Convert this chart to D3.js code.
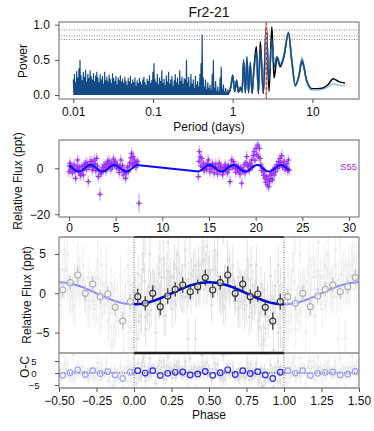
<!DOCTYPE html>
<html><head><meta charset="utf-8">
<script src="https://cdn.jsdelivr.net/npm/d3@7"></script>
<style>body{margin:0;background:#fff}svg{display:block;font-family:"Liberation Sans",Arial,Helvetica,sans-serif}</style>
</head><body><svg id="c" width="374" height="431"></svg>
<script>
/* Fr2-21 — periodogram, light curve, phase fold + O-C */
var title = 'Fr2-21';

// periodogram: dense short-period spikes (peak powers on a log grid 0.01..0.9 d)
var pgDenseRange = [0.01, 0.9];
var pgDense = [0.22,0.30,0.18,0.34,0.25,0.38,0.50,0.28,0.21,0.33,0.26,0.36,0.19,0.30,0.24,0.35,0.27,0.22,0.31,0.20,0.28,0.33,
  0.25,0.18,0.30,0.22,0.27,0.16,0.33,0.21,0.26,0.19,0.29,0.23,0.17,0.31,0.24,0.20,0.27,0.15,0.25,0.21,0.28,0.19,
  0.23,0.17,0.26,0.20,0.14,0.24,0.19,0.27,0.16,0.22,0.18,0.25,0.13,0.21,0.17,0.24,0.19,0.15,0.22,0.26,0.18,0.14,0.23,0.20,0.28,0.17,0.21,0.33,
  0.45,0.22,0.18,0.30,0.15,0.25,0.20,0.35,0.17,0.23,0.14,0.28,0.19,0.33,0.16,0.22,0.27,0.13,0.21,0.30,0.18,0.25,0.15,0.35,0.20,0.26,0.16,0.24,
  0.22,0.50,0.18,0.26,0.12,0.30,0.16,0.22,0.10,0.27,0.15,0.20,0.12,0.30,0.45,0.86,0.25,0.12,0.22,0.08,0.18,0.10,0.15,0.07,0.30,0.50,
  0.10,0.20,0.06,0.12,0.05,0.25,0.40,0.08,0.15,0.05,0.10,0.04,0.08,0.05];
// periodogram: long periods, three versions
var pgLongPeriod = [0.90,0.95,1.00,1.06,1.12,1.18,1.25,1.31,1.37,1.44,1.51,1.58,1.66,1.75,1.84,1.98,2.10,2.22,2.42,2.64,2.85,3.10,3.30,3.60,3.95,4.40,5.00,5.50,6.10,6.70,7.40,8.50,9.80,11.5,13.6,15.8,18.2,21.5,25.6];
var pgBlack = [0.03,0.12,0.28,0.05,0.20,0.04,0.10,0.04,0.48,0.03,0.50,0.03,0.40,0.02,0.35,0.69,0.02,0.76,0.02,1.00,0.05,0.97,0.24,0.53,0.40,0.55,0.88,0.50,0.14,0.25,0.47,0.20,0.09,0.09,0.10,0.15,0.23,0.19,0.17];
var pgLight = [0.04,0.14,0.26,0.07,0.22,0.05,0.12,0.05,0.45,0.05,0.55,0.05,0.42,0.05,0.32,0.55,0.04,0.62,0.05,0.88,0.30,0.70,0.50,0.55,0.45,0.58,0.90,0.50,0.12,0.25,0.54,0.18,0.07,0.07,0.08,0.12,0.16,0.14,0.13];
var pgDark = [0.03,0.13,0.27,0.06,0.21,0.04,0.11,0.04,0.50,0.04,0.54,0.04,0.47,0.03,0.33,0.62,0.03,0.68,0.03,0.96,0.20,0.80,0.40,0.54,0.42,0.56,0.89,0.50,0.13,0.25,0.50,0.19,0.08];
var fapLevels = [0.925, 0.84, 0.79];
var bestPeriod = 2.64;
var pgTicks = [0.01, 0.1, 1, 10];

// light curve [time d, flux ppt, err]
var lcData = [[0.00,-1.5,2.4],[0.05,1.0,2.2],[0.11,2.2,2.5],[0.20,-0.5,2.0],[0.28,0.8,2.3],[0.36,-2.0,2.6],[0.46,0.0,2.1],[0.55,1.5,2.4],
  [0.62,-1.2,2.2],[0.71,-4.4,2.6],[0.80,-0.3,2.0],[0.88,1.0,2.3],[0.93,3.6,2.5],[1.00,-0.8,2.2],[1.07,-1.5,2.4],[1.15,0.5,2.0],
  [1.22,-3.0,2.5],[1.29,-2.6,2.3],[1.38,0.8,2.1],[1.46,-1.0,2.4],[1.54,-2.9,2.5],[1.62,1.5,2.2],[1.71,0.7,2.0],[1.80,2.5,2.4],
  [1.88,-0.5,2.1],[1.96,1.8,2.3],[2.07,-5.8,2.6],[2.15,0.5,2.2],[2.25,2.9,2.5],[2.33,1.2,2.0],[2.42,3.0,2.4],[2.50,-0.7,2.2],
  [2.58,1.5,2.3],[2.65,0.3,2.1],[2.71,3.6,2.5],[2.80,2.0,2.2],[2.88,-1.0,2.4],[2.96,4.3,2.6],[3.05,1.0,2.1],[3.14,-3.6,2.5],
  [3.22,-1.0,2.2],[3.32,-11.3,2.8],[3.40,-2.5,2.3],[3.50,-1.5,2.4],[3.58,0.2,2.0],[3.66,-0.8,2.2],[3.76,1.5,2.4],[3.86,0.7,2.1],
  [3.95,-1.2,2.3],[4.05,2.0,2.2],[4.14,2.9,2.5],[4.22,0.5,2.0],[4.30,3.2,2.4],[4.39,1.5,2.2],[4.48,-0.5,2.3],[4.56,2.2,2.1],
  [4.65,0.8,2.4],[4.75,4.0,2.5],[4.84,1.8,2.2],[4.92,3.0,2.3],[5.00,2.2,2.1],[5.08,0.2,2.4],[5.18,1.5,2.2],[5.29,0.0,2.0],
  [5.38,-1.8,2.5],[5.47,1.0,2.2],[5.57,3.6,2.4],[5.65,-0.5,2.1],[5.74,1.2,2.3],[5.82,-2.9,2.5],[5.90,-0.8,2.2],[5.98,-1.5,2.0],
  [6.07,-4.4,2.6],[6.15,-2.0,2.3],[6.25,0.5,2.1],[6.36,-1.5,2.4],[6.45,1.0,2.2],[6.55,2.5,2.5],[6.63,4.5,2.3],[6.71,6.5,2.6],
  [6.80,2.0,2.2],[6.88,5.0,2.4],[6.95,1.5,2.1],[7.00,3.6,2.5],[7.10,2.5,2.2],[7.18,0.5,2.3],[7.25,2.2,2.4],[7.35,3.0,2.2],
  [7.50,-15.2,4.2],
  [13.86,-3.6,2.5],[13.92,3.0,2.2],[13.97,7.2,2.6],[14.05,5.0,2.3],[14.12,1.0,2.1],[14.22,4.3,2.5],[14.30,0.5,2.2],[14.40,2.2,2.4],
  [14.48,-1.0,2.1],[14.58,0.0,2.3],[14.66,1.5,2.2],[14.75,-0.5,2.0],[14.85,2.0,2.4],[14.93,3.6,2.5],[15.02,0.8,2.2],[15.10,-1.5,2.3],
  [15.20,1.0,2.1],[15.28,-0.3,2.4],[15.38,2.0,2.2],[15.47,0.7,2.0],[15.55,-2.0,2.5],[15.65,0.5,2.2],[15.73,1.8,2.3],[15.83,-0.7,2.1],
  [15.92,-2.5,2.4],[16.00,0.5,2.2],[16.10,2.2,2.5],[16.18,-1.0,2.1],[16.27,1.0,2.3],[16.36,0.0,2.2],[16.45,-2.8,2.4],[16.54,-1.5,2.0],
  [16.62,0.3,2.2],[16.72,1.5,2.4],[16.80,-0.8,2.1],[16.90,0.7,2.3],[16.98,-2.0,2.5],[17.07,1.2,2.2],[17.15,-0.5,2.0],[17.25,-5.8,2.6],
  [17.34,1.0,2.2],[17.43,3.6,2.4],[17.52,0.5,2.1],[17.61,2.9,2.5],[17.70,1.5,2.2],[17.79,0.0,2.3],[17.88,-1.8,2.4],[17.97,1.0,2.1],
  [18.06,-0.5,2.2],[18.15,0.7,2.0],[18.24,-1.5,2.4],[18.33,-2.5,2.3],[18.42,0.3,2.1],[18.50,-6.5,2.6],[18.60,-1.0,2.2],[18.68,-0.7,2.4],
  [18.78,1.5,2.1],[18.86,-2.0,2.3],[18.95,2.5,2.2],[19.04,5.1,2.5],[19.13,1.0,2.1],[19.22,0.7,2.3],[19.30,-1.0,2.2],[19.40,2.0,2.4],
  [19.48,1.0,2.0],[19.57,3.6,2.5],[19.66,0.5,2.2],[19.75,5.5,2.4],[19.83,7.2,2.6],[19.92,3.5,2.2],[20.04,8.7,2.5],[20.12,6.0,2.3],
  [20.22,10.1,2.6],[20.30,5.0,2.2],[20.40,8.7,2.5],[20.47,4.3,2.3],[20.56,1.5,2.1],[20.65,-1.0,2.4],[20.75,0.0,2.2],[20.84,-3.0,2.3],
  [20.92,-1.5,2.1],[21.00,-4.4,2.5],[21.08,-6.0,2.4],[21.16,-3.5,2.2],[21.25,-7.2,2.6],[21.33,-5.0,2.3],[21.40,-8.0,2.5],[21.47,-5.8,2.4],
  [21.55,-3.0,2.2],[21.63,-4.5,2.3],[21.72,-2.2,2.1],[21.80,-5.0,2.4],[21.88,-0.5,2.2],[21.97,-2.9,2.5],[22.05,0.0,2.1],[22.14,-1.5,2.3],
  [22.26,1.5,2.2],[22.35,0.0,2.0],[22.44,2.9,2.4],[22.53,1.0,2.2],[22.62,4.3,2.5],[22.70,2.5,2.3],[22.80,5.5,2.6],[22.88,0.5,2.1],
  [22.97,1.5,2.2],[23.06,3.0,2.4],[23.15,-0.5,2.1],[23.26,0.7,2.3],[23.35,2.0,2.2],[23.44,-1.0,2.4],[23.51,3.6,2.5],[23.60,-0.7,2.2]];
var lcLabel = 'S55';
var lcTicks = [0, 5, 10, 15, 20, 25, 30];
var lcYTicks = [0, -20];

// sinusoid fit
var modelPeriod = 2.55, modelEpoch = 1.03, modelAmp = 1.4;

// phase bins
var binPhase = [0.025,0.075,0.125,0.175,0.225,0.275,0.325,0.375,0.425,0.475,0.525,0.575,0.625,0.675,0.725,0.775,0.825,0.875,0.925,0.975];
var binFlux = [-0.43,-1.28,0.0,-1.7,-0.34,0.5,1.06,0.2,0.85,2.0,0.42,1.35,2.33,0.0,1.18,-0.43,-0.09,-1.78,-3.53,-1.07];
var binErr = [1.0,0.9,1.0,1.1,1.0,0.9,1.0,1.0,0.9,1.0,1.0,0.9,1.1,1.0,1.0,0.9,1.0,1.0,1.1,1.0];
var phaseTicks = [-0.5, -0.25, 0, 0.25, 0.5, 0.75, 1, 1.25, 1.5];
var fluxTicks = [-5, 0, 5];

var svg = d3.select('#c');
var FONT = '"Liberation Sans",Arial,Helvetica,sans-serif';
var X0 = 59, X1 = 359;

function model(t) { return -modelAmp * Math.cos(2 * Math.PI * (t - modelEpoch) / modelPeriod); }
function modelPh(p) { return -modelAmp * Math.cos(2 * Math.PI * p); }

function frame(y0, y1) {
  svg.append('rect').attr('x', X0).attr('y', y0).attr('width', X1 - X0).attr('height', y1 - y0)
    .attr('fill', 'none').attr('stroke', '#8a8a8a').attr('stroke-width', 1.3);
}
function styleAxis(g, cx, fs) {
  g.select('.domain').remove();
  g.selectAll('.tick line').attr('stroke', '#555');
  g.selectAll('.tick text').attr('font-size', fs || 12).attr('fill', '#111').attr('font-family', FONT);
  if (cx !== undefined) g.selectAll('.tick text').attr('text-anchor', 'middle').attr('x', cx - X0);
}
function ylabel(txt, x, y) {
  svg.append('text').attr('transform', 'translate(' + x + ',' + y + ') rotate(-90)').attr('text-anchor', 'middle')
    .attr('font-size', 12).attr('fill', '#111').text(txt);
}
function clip(id, y0, y1) {
  svg.append('clipPath').attr('id', id).append('rect').attr('x', X0).attr('y', y0).attr('width', X1 - X0).attr('height', y1 - y0);
}

// ---------- title ----------
svg.append('text').attr('x', 209).attr('y', 17).attr('text-anchor', 'middle').attr('font-size', 14).attr('fill', '#111').text(title);

// ---------- periodogram ----------
var xP = d3.scaleLog().domain([0.00662, 38.4]).range([X0, X1]);
var yP = d3.scaleLinear().domain([-0.057, 1.038]).range([99, 22]);
clip('cp1', 22, 99);
var gP = svg.append('g').attr('clip-path', 'url(#cp1)');
fapLevels.forEach(function (f) {
  gP.append('line').attr('x1', X0).attr('x2', X1).attr('y1', yP(f)).attr('y2', yP(f))
    .attr('stroke', '#777').attr('stroke-width', 0.9).attr('stroke-dasharray', '1,1.5');
});
var nD = pgDense.length, lg0 = Math.log10(pgDenseRange[0]), lg1 = Math.log10(pgDenseRange[1]), dl = (lg1 - lg0) / (nD - 1);
var densePts = [];
pgDense.forEach(function (v, i) {
  var lp = lg0 + dl * i;
  densePts.push([Math.pow(10, lp), v]);
  if (i < nD - 1) densePts.push([Math.pow(10, lp + dl / 2), 0]);
});
var lineP = d3.line().x(function (d) { return xP(d[0]); }).y(function (d) { return yP(d[1]); });
var lineLong = d3.line().curve(d3.curveMonotoneX).x(function (d) { return xP(d[0]); }).y(function (d) { return yP(d[1]); });
function longPts(arr) { return arr.map(function (v, i) { return [pgLongPeriod[i], v]; }); }
gP.append('path').attr('d', lineLong(longPts(pgBlack))).attr('fill', 'none').attr('stroke', '#000').attr('stroke-width', 1.5);
gP.append('path').attr('d', lineLong(longPts(pgLight))).attr('fill', 'none').attr('stroke', '#94c6f2').attr('stroke-width', 1.5);
gP.append('path').attr('d', lineP(densePts)).attr('fill', 'none').attr('stroke', '#144b86').attr('stroke-width', 1.1);
gP.append('path').attr('d', lineLong(longPts(pgDark))).attr('fill', 'none').attr('stroke', '#144b86').attr('stroke-width', 1.5);
gP.append('line').attr('x1', xP(bestPeriod)).attr('x2', xP(bestPeriod)).attr('y1', 22).attr('y2', 99)
  .attr('stroke', '#f2a09a').attr('stroke-width', 1.6);
gP.append('line').attr('x1', xP(bestPeriod)).attr('x2', xP(bestPeriod)).attr('y1', 22).attr('y2', 99)
  .attr('stroke', '#d9241c').attr('stroke-width', 1).attr('stroke-dasharray', '3,2');
frame(22, 99);
svg.append('g').attr('transform', 'translate(0,99)')
  .call(d3.axisBottom(xP).tickValues(pgTicks).tickFormat(function (d) { return String(d); }).tickSize(4).tickPadding(4.5))
  .call(function (g) { styleAxis(g); });
svg.append('g').attr('transform', 'translate(' + X0 + ',0)')
  .call(d3.axisLeft(yP).tickValues([0, 0.5, 1]).tickFormat(d3.format('.1f')).tickSize(4))
  .call(function (g) { styleAxis(g, 41.5); });
ylabel('Power', 27, 61);
svg.append('text').attr('x', 209).attr('y', 131).attr('text-anchor', 'middle').attr('font-size', 12).attr('fill', '#111').text('Period (days)');

// ---------- light curve ----------
var xT = d3.scaleLinear().domain([-1.07, 31.07]).range([X0, X1]);
var yT = d3.scaleLinear().domain([-21.2, 12.3]).range([217, 140]);
clip('cp2', 140, 217);
var gT = svg.append('g').attr('clip-path', 'url(#cp2)');
gT.selectAll('line.eb').data(lcData).enter().append('line').attr('class', 'eb')
  .attr('x1', function (d) { return xT(d[0]); }).attr('x2', function (d) { return xT(d[0]); })
  .attr('y1', function (d) { return yT(d[1] - d[2]); }).attr('y2', function (d) { return yT(d[1] + d[2]); })
  .attr('stroke', '#cfaeff').attr('stroke-width', 1.8).attr('opacity', 0.7);
var gc = gT.selectAll('g.pt').data(lcData).enter().append('g').attr('class', 'pt')
  .attr('transform', function (d) { return 'translate(' + xT(d[0]) + ',' + yT(d[1]) + ')'; });
gc.append('line').attr('x1', -2.6).attr('x2', 2.6).attr('stroke', '#9a2cf5').attr('stroke-width', 1.2);
gc.append('line').attr('y1', -2.6).attr('y2', 2.6).attr('stroke', '#9a2cf5').attr('stroke-width', 1.2);
var lcSorted = lcData.slice().sort(function (a, b) { return a[0] - b[0]; });
gT.append('path').attr('d', d3.line().x(function (d) { return xT(d[0]); }).y(function (d) { return yT(model(d[0])); })(lcSorted))
  .attr('fill', 'none').attr('stroke', '#0a0aff').attr('stroke-width', 2);
svg.append('text').attr('x', 357).attr('y', 169.5).attr('text-anchor', 'end').attr('font-size', 9.5).attr('fill', '#a030f0').text(lcLabel);
frame(140, 217);
svg.append('g').attr('transform', 'translate(0,217)')
  .call(d3.axisBottom(xT).tickValues(lcTicks).tickSize(4).tickPadding(2.5)).call(function (g) { styleAxis(g); });
svg.append('g').attr('transform', 'translate(' + X0 + ',0)')
  .call(d3.axisLeft(yT).tickValues(lcYTicks).tickSize(4))
  .call(function (g) { styleAxis(g, 40); });
ylabel('Relative Flux (ppt)', 22, 181);

// ---------- phase fold ----------
var xF = d3.scaleLinear().domain([-0.5, 1.5]).range([X0, X1]);
var yF = d3.scaleLinear().domain([-7.6, 7.17]).range([353, 237]);
var yR = d3.scaleLinear().domain([-6.25, 8.33]).range([388, 353]);
clip('cp3', 237, 353);
clip('cp4', 353, 388);
var folded = [];
lcData.forEach(function (d) {
  var ph = ((d[0] - modelEpoch) / modelPeriod) % 1; if (ph < 0) ph += 1;
  [-1, 0, 1].forEach(function (k) {
    var p = ph + k;
    if (p >= -0.5 && p <= 1.5) folded.push({ p: p, v: d[1], e: d[2], r: d[1] - model(d[0]), inside: k === 0 });
  });
});
var g3 = svg.append('g').attr('clip-path', 'url(#cp3)');
var g4 = svg.append('g').attr('clip-path', 'url(#cp4)');
function bg(g, ys, key) {
  g.selectAll('line.bg').data(folded).enter().append('line').attr('class', 'bg')
    .attr('x1', function (d) { return xF(d.p); }).attr('x2', function (d) { return xF(d.p); })
    .attr('y1', function (d) { return ys(d[key] - d.e); }).attr('y2', function (d) { return ys(d[key] + d.e); })
    .attr('stroke', function (d) { return d.inside ? '#e2e2e2' : '#efefef'; }).attr('stroke-width', 1);
  g.selectAll('circle.bg').data(folded).enter().append('circle').attr('class', 'bg')
    .attr('cx', function (d) { return xF(d.p); }).attr('cy', function (d) { return ys(d[key]); }).attr('r', 1.5)
    .attr('fill', function (d) { return d.inside ? '#dedede' : '#ececec'; });
}
bg(g3, yF, 'v');
bg(g4, yR, 'r');

var lineF = d3.line().x(function (d) { return xF(d); }).y(function (d) { return yF(modelPh(d)); });
var phIn = d3.range(0, 1.0001, 0.01), phL = d3.range(-0.5, 0.0001, 0.01), phR = d3.range(1, 1.5001, 0.01);
g3.append('path').attr('d', lineF(phL)).attr('fill', 'none').attr('stroke', '#8c8cff').attr('stroke-width', 2);
g3.append('path').attr('d', lineF(phR)).attr('fill', 'none').attr('stroke', '#8c8cff').attr('stroke-width', 2);
g3.append('path').attr('d', lineF(phIn)).attr('fill', 'none').attr('stroke', '#0000e6').attr('stroke-width', 2.5);

var bins = [];
binPhase.forEach(function (p, i) {
  [-1, 0, 1].forEach(function (k) {
    var q = p + k;
    if (q >= -0.5 && q <= 1.5) bins.push({ p: q, v: binFlux[i], e: binErr[i], r: binFlux[i] - modelPh(p), inside: k === 0 });
  });
});
g3.selectAll('line.bn').data(bins).enter().append('line').attr('class', 'bn')
  .attr('x1', function (d) { return xF(d.p); }).attr('x2', function (d) { return xF(d.p); })
  .attr('y1', function (d) { return yF(d.v - d.e); }).attr('y2', function (d) { return yF(d.v + d.e); })
  .attr('stroke', function (d) { return d.inside ? '#333' : '#c4c4c4'; }).attr('stroke-width', 1.2);
g3.selectAll('circle.bn').data(bins).enter().append('circle').attr('class', 'bn')
  .attr('cx', function (d) { return xF(d.p); }).attr('cy', function (d) { return yF(d.v); }).attr('r', 3)
  .attr('fill', '#fff').attr('fill-opacity', 0.6)
  .attr('stroke', function (d) { return d.inside ? '#333' : '#b0b0b0'; }).attr('stroke-width', 1.2);

g4.append('line').attr('x1', X0).attr('x2', X1).attr('y1', yR(0)).attr('y2', yR(0))
  .attr('stroke', '#222').attr('stroke-width', 0.9).attr('stroke-dasharray', '1,1.5');
g4.selectAll('circle.oc').data(bins).enter().append('circle').attr('class', 'oc')
  .attr('cx', function (d) { return xF(d.p); }).attr('cy', function (d) { return yR(d.r); }).attr('r', 2.8)
  .attr('fill', 'none')
  .attr('stroke', function (d) { return d.inside ? '#2828ff' : '#a0a0ff'; }).attr('stroke-width', 1.2);

// frames for phase panels
var fr = svg.append('g').attr('stroke', '#8a8a8a').attr('stroke-width', 1.3);
fr.append('line').attr('x1', X0).attr('x2', X0).attr('y1', 237).attr('y2', 388);
fr.append('line').attr('x1', X1).attr('x2', X1).attr('y1', 237).attr('y2', 388);
[237, 353, 388].forEach(function (y) { fr.append('line').attr('x1', X0).attr('x2', X1).attr('y1', y).attr('y2', y); });
svg.append('line').attr('x1', xF(0)).attr('x2', xF(1)).attr('y1', 237).attr('y2', 237).attr('stroke', '#222').attr('stroke-width', 1.6);
svg.append('line').attr('x1', xF(0)).attr('x2', xF(1)).attr('y1', 353).attr('y2', 353).attr('stroke', '#222').attr('stroke-width', 2.4);
[0, 1].forEach(function (p) {
  svg.append('line').attr('x1', xF(p)).attr('x2', xF(p)).attr('y1', 237).attr('y2', 388)
    .attr('stroke', '#555').attr('stroke-width', 0.9).attr('stroke-dasharray', '1,1.5');
});
svg.append('g').attr('transform', 'translate(' + X0 + ',0)')
  .call(d3.axisLeft(yF).tickValues(fluxTicks).tickSize(4))
  .call(function (g) { styleAxis(g, 42.5); });
svg.append('g').attr('transform', 'translate(' + X0 + ',0)')
  .call(d3.axisLeft(yR).tickValues(fluxTicks).tickSize(4))
  .call(function (g) { styleAxis(g, 34, 9.5); });
svg.append('g').attr('transform', 'translate(0,388)')
  .call(d3.axisBottom(xF).tickValues(phaseTicks).tickFormat(d3.format('.2f')).tickSize(4).tickPadding(4.5))
  .call(function (g) { styleAxis(g); });
ylabel('Relative Flux (ppt)', 31, 295);
ylabel('O-C', 29, 367);
svg.append('text').attr('x', 209).attr('y', 418.5).attr('text-anchor', 'middle').attr('font-size', 12).attr('fill', '#111').text('Phase');
</script></body></html>
